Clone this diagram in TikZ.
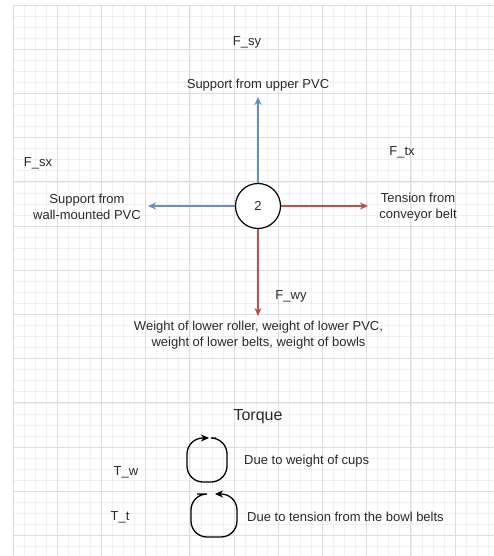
\documentclass[tikz,border=0pt]{standalone}
\usepackage{fontspec}
\setmainfont{Liberation Sans}
\usetikzlibrary{arrows.meta}
\definecolor{txt}{HTML}{2A2A2A}
\definecolor{supblue}{HTML}{6C8EBF}
\definecolor{loadred}{HTML}{B85450}
\definecolor{gridminor}{HTML}{F0F0F0}
\definecolor{gridmajor}{HTML}{DDDDDD}
\tikzset{
  minorline/.style={draw=gridminor, line width=0.6pt},
  majorline/.style={draw=gridmajor, line width=0.8pt},
  lbl/.style={inner sep=0pt, text=txt, font=\fontsize{13}{15.5}\selectfont},
  multi/.style={lbl, align=center},
  joint/.style={circle, draw=black, fill=white, line width=1.2pt, minimum size=45pt, inner sep=0pt, text=txt, font=\fontsize{13}{15.5}\selectfont},
  forcearrow/.style={line width=1.2pt, -{Stealth[length=8pt, width=7pt, inset=2.5pt]}},
  turnarrow/.style={line width=1.3pt, rounded corners=16pt, -{Stealth[length=8pt, width=7pt, inset=2.5pt]}},
}
\begin{document}
\begin{tikzpicture}[x=1pt, y=-1pt]
\useasboundingbox (0,0) rectangle (494,556);
\fill[white] (0,0) rectangle (494,556);
% background grid
\foreach \i in {0,...,43} {
  \pgfmathsetmacro\gx{13+\i*11.05}
  \draw[minorline] (\gx,5) -- (\gx,556);
}
\foreach \i in {0,...,49} {
  \pgfmathsetmacro\gy{5+\i*11.05}
  \draw[minorline] (13,\gy) -- (494,\gy);
}
\foreach \i in {0,4,...,40} {
  \pgfmathsetmacro\gx{13+\i*11.05}
  \draw[majorline] (\gx,5) -- (\gx,556);
}
\foreach \i in {0,4,...,48} {
  \pgfmathsetmacro\gy{5+\i*11.05}
  \draw[majorline] (13,\gy) -- (494,\gy);
}

% joint and forces
\node[joint] (j) at (258,206) {2};
\coordinate (up) at (258,97);
\coordinate (left) at (148,206);
\coordinate (right) at (368,206);
\coordinate (down) at (258,316);
\draw[forcearrow, supblue] (j.north) -- (up);
\draw[forcearrow, supblue] (j.west) -- (left);
\draw[forcearrow, loadred] (j.east) -- (right);
\draw[forcearrow, loadred] (j.south) -- (down);

\node[lbl] (fsy) at (247,42) {F\_sy};
\node[lbl] (supup) at (258,85) {Support from upper PVC};
\node[lbl] (fsx) at (38,163) {F\_sx};
\node[multi] (supwall) at (87,207) {Support from\\wall-mounted PVC};
\node[lbl] (ftx) at (402,152) {F\_tx};
\node[multi] (tens) at (418,207) {Tension from\\conveyor belt};
\node[lbl] (fwy) at (291,296) {F\_wy};
\node[multi] (weights) at (258.5,335) {Weight of lower roller, weight of lower PVC,\\weight of lower belts, weight of bowls};

% torques
\node[lbl, font=\fontsize{16}{19}\selectfont] (torque) at (258,417) {Torque};
\draw[turnarrow] (216,438) -- (227,438) -- (227,482) -- (187,482) -- (187,438) -- (209,438);
\draw[turnarrow] (197,494) -- (191,494) -- (191,537) -- (237,537) -- (237,494) -- (215,494);
\node[lbl] (tw) at (126,472) {T\_w};
\node[lbl, anchor=west] (tw-txt) at (244,461) {Due to weight of cups};
\node[lbl] (tt) at (120,517) {T\_t};
\node[lbl, anchor=west] (tt-txt) at (247,517) {Due to tension from the bowl belts};
\end{tikzpicture}
\end{document}
